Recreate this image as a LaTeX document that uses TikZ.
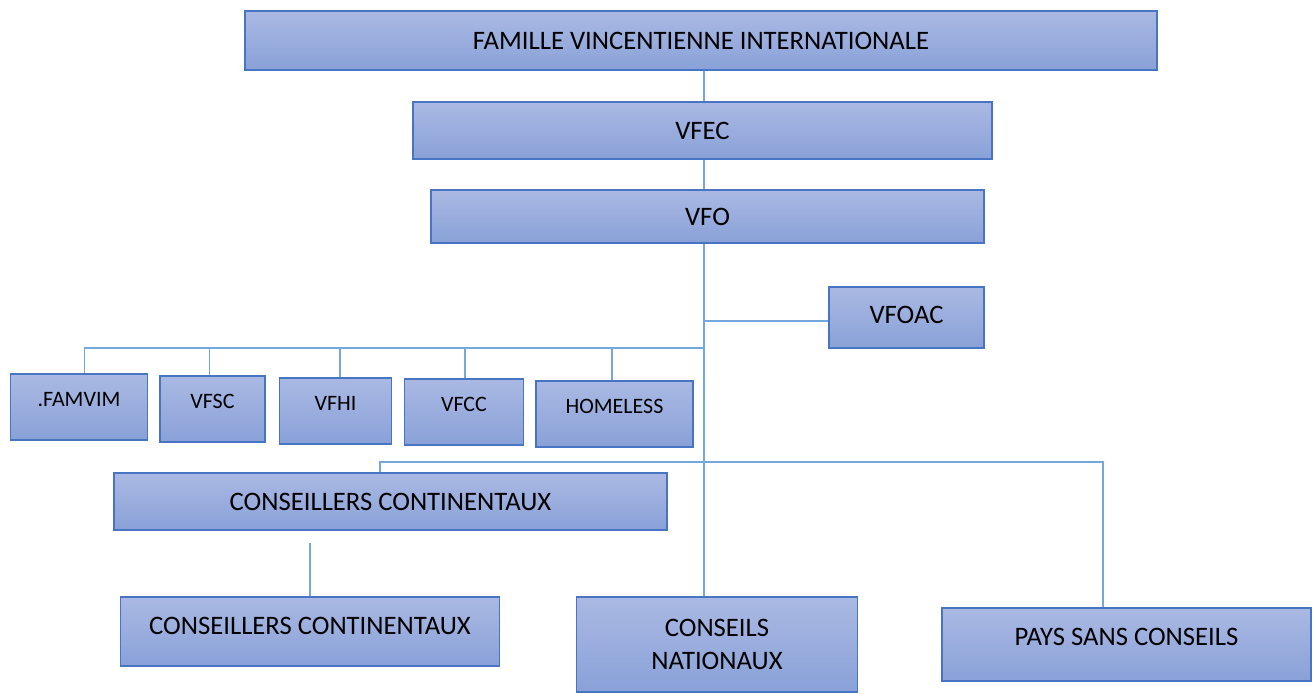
\documentclass[tikz,border=0pt]{standalone}
\usepackage{fontspec}
\setmainfont{Carlito}
\usetikzlibrary{calc}

\definecolor{boxtop}{RGB}{170,185,227}
\definecolor{boxbot}{RGB}{137,161,216}
\definecolor{boxline}{RGB}{72,116,196}
\definecolor{linkcol}{RGB}{115,168,222}

\tikzset{
  orgbox/.style={draw=boxline, line width=1pt, top color=boxtop, bottom color=boxbot,
    inner sep=0pt, font=\fontsize{20}{24.75}\selectfont},
  smallbox/.style={orgbox, font=\fontsize{16.5}{20}\selectfont, text depth=12pt,
    minimum height=49.5pt},
  link/.style={draw=linkcol, line width=1pt}
}

\begin{document}
\begin{tikzpicture}[x=0.75pt,y=-0.75pt]
  \useasboundingbox (0,0) rectangle (1313,693);

  % tronc commun et niveaux des barres
  \coordinate (trunk) at (704,0);
  \coordinate (busa) at (0,348);
  \coordinate (busb) at (0,462);

  % niveaux du haut
  \node[orgbox, minimum width=684pt, minimum height=44.25pt] (fvi) at (701,40.5)
    {FAMILLE VINCENTIENNE INTERNATIONALE};
  \node[orgbox, minimum width=434.25pt, minimum height=42.75pt] (vfec) at (702.5,130.5) {VFEC};
  \node[orgbox, minimum width=414.75pt, minimum height=39.75pt] (vfo) at (707.5,216.5) {VFO};
  \node[orgbox, minimum width=116.25pt, minimum height=45.75pt, text depth=4pt] (vfoac) at (906.5,317.5) {VFOAC};

  % branches
  \foreach \name/\cx/\cy/\w/\dx/\lbl in {famvim/79/407/102.75/4/.FAMVIM, vfsc/212.5/409/78.75/-2.5/VFSC,
      vfhi/335.5/411/84/3.4/VFHI, vfcc/464/412/89.25/0.75/VFCC, homeless/614.5/414/117.75/-1.9/HOMELESS}{
    \node[smallbox, minimum width=\w pt] (\name) at (\cx,\cy) {\lbl};
    \draw[link] ([xshift=\dx pt]\name.north |- busa) -- ([xshift=\dx pt]\name.north);
  }

  % conseils
  \node[orgbox, minimum width=414.75pt, minimum height=42.75pt] (cc1) at (390.5,501.5)
    {CONSEILLERS CONTINENTAUX};
  \node[orgbox, minimum width=284.6pt, minimum height=51.75pt, text depth=9pt] (cc2) at (310,631.5)
    {CONSEILLERS CONTINENTAUX};
  \node[orgbox, minimum width=210.4pt, minimum height=71.25pt, align=center] (cn) at (717,644.5)
    {CONSEILS\\NATIONAUX};
  \node[orgbox, minimum width=276.75pt, minimum height=54.75pt, text depth=11pt] (psc) at (1126.5,644.5)
    {PAYS SANS CONSEILS};

  % liaisons
  \draw[link] (trunk |- fvi.south) -- (trunk |- vfec.north);
  \draw[link] (trunk |- vfec.south) -- (trunk |- vfo.north);
  \draw[link] (trunk |- vfo.south) -- (trunk |- cn.north);
  \draw[link] ([yshift=-2.6pt]trunk |- vfoac.west) -- ([yshift=-2.6pt]vfoac.west);
  \draw[link] ([xshift=4pt]famvim.north |- busa) -- (trunk |- busa);
  \draw[link] ([xshift=-7.9pt]cc1.north) -- ([xshift=-7.9pt]cc1.north |- busb)
    -- ([xshift=-17.6pt]psc.north |- busb) -- ([xshift=-17.6pt]psc.north);
  \coordinate (ccgap) at (310,543);
  \draw[link] (ccgap) -- (ccgap |- cc2.north);
\end{tikzpicture}
\end{document}
